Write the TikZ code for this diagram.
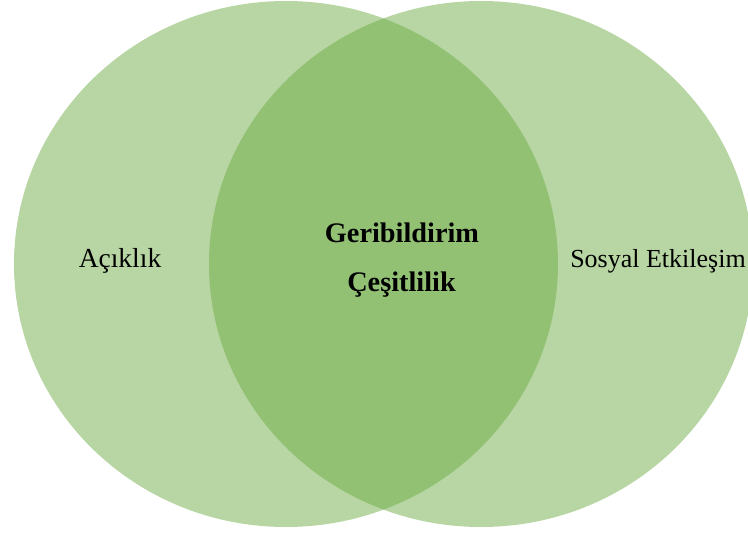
\documentclass[tikz,border=0pt]{standalone}
\usepackage{fontspec}
\setmainfont{Liberation Serif}
\definecolor{vennGreen}{HTML}{70AD47}
\begin{document}
\begin{tikzpicture}[x=1pt,y=-1pt,
  venn/.style={fill=vennGreen,fill opacity=0.5},
  lbl/.style={anchor=base,inner sep=0pt,font=\fontsize{26}{30}\selectfont},
  core/.style={anchor=base,inner sep=0pt,font=\fontsize{28.3}{32}\selectfont\bfseries}]
  \useasboundingbox (0,0) rectangle (748,533);
  \clip (0,0) rectangle (748,533);
  % two overlapping sets
  \fill[venn] (286,264) ellipse [x radius=272pt, y radius=263pt];
  \fill[venn] (481,264) ellipse [x radius=272pt, y radius=263pt];
  % set labels
  \node[lbl,font=\fontsize{27.5}{30}\selectfont] (left) at (120,267) {Açıklık};
  \node[lbl] (right) at (658,267) {Sosyal Etkileşim};
  % shared area
  \node[core] (fb)  at (402,242) {Geribildirim};
  \node[core] (div) at (401.5,291) {Çeşitlilik};
\end{tikzpicture}
\end{document}
